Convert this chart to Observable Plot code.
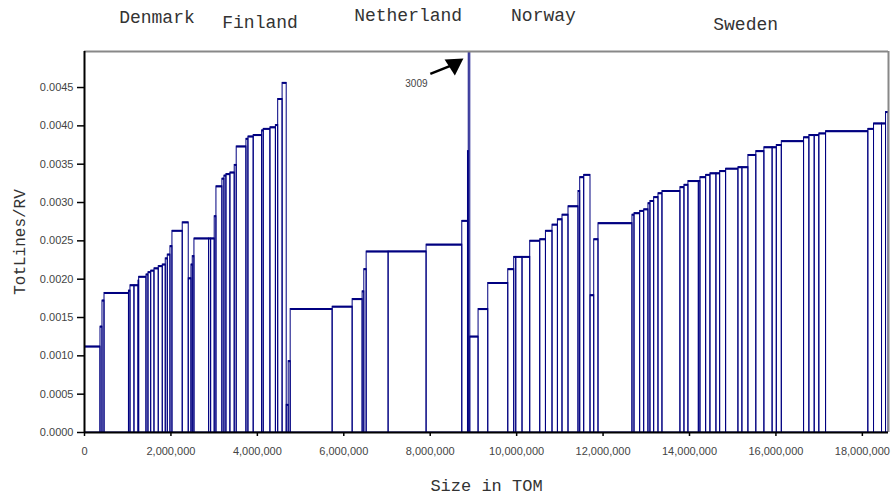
<!DOCTYPE html>
<html><head><meta charset="utf-8">
<script src="https://cdn.jsdelivr.net/npm/d3@7"></script>
<script src="https://cdn.jsdelivr.net/npm/@observablehq/plot@0.6"></script>
<style>body{margin:0;background:#fff}#chart svg{display:block}</style>
</head><body><div id="chart"></div>
<script>
// bar widths (size in TOM, thousands), left to right
const sizes = [
 370, 46, 47, 566, 35, 92, 93, 16, 169, 46,
 63, 76, 99, 93, 69, 47, 62, 46, 238, 139,
 63, 30, 39, 340, 46, 83, 40, 138, 47, 46,
 92, 100, 46, 225, 46, 122, 195, 37, 155, 127,
 53, 102, 95, 46, 46, 971, 463, 231, 39, 54,
 508, 879, 826, 132, 18, 35, 192, 224, 463, 138,
 47, 145, 178, 232, 132, 152, 125, 106, 139, 231,
 40, 92, 146, 86, 99, 786, 47, 131, 93, 99,
 46, 86, 100, 92, 416, 93, 92, 241, 37, 132,
 99, 139, 86, 138, 285, 92, 139, 183, 187, 190,
 97, 116, 515, 123, 123, 107, 156, 978, 132, 185,
 93, 57
];
// TotLines/RV per bar
const values = [
 .00112, .00138, .00172, .00182, .00185, .00192, .00192, .00198, .00203, .00206,
 .00209, .00211, .00214, .00217, .00219, .00227, .00232, .00243, .00263, .00274,
 .00201, .00219, .00230, .00253, .00253, .00253, .00282, .00321, .00331, .00335,
 .00337, .00339, .00349, .00373, .00383, .00386, .00388, .00394, .00396, .00398,
 .00401, .00435, .00456, .00036, .00093, .00161, .00164, .00174, .00184, .00213,
 .00236, .00236, .00245, .00276, .00367, .00620, .00125, .00161, .00195, .00213,
 .00229, .00229, .00229, .00250, .00252, .00263, .00271, .00278, .00284, .00295,
 .00315, .00333, .00336, .00179, .00252, .00273, .00284, .00286, .00289, .00291,
 .00299, .00302, .00307, .00312, .00315, .00320, .00323, .00328, .00328, .00333,
 .00336, .00338, .00338, .00341, .00344, .00346, .00346, .00362, .00367, .00372,
 .00372, .00375, .00380, .00385, .00388, .00388, .00390, .00393, .00396, .00403,
 .00403, .00418
];
const countries = ["Denmark", "Finland", "Netherland", "Norway", "Sweden"];
const countryX = [1677000, 4063000, 7490000, 10620000, 15300000];
const countryDy = [-34, -29, -36, -36, -27];
const xTicks = [0, 2e6, 4e6, 6e6, 8e6, 10e6, 12e6, 14e6, 16e6, 18e6];
const yTicks = [0, .0005, .001, .0015, .002, .0025, .003, .0035, .004, .0045];
const yTop = 0.00497;
const outlierLabel = ["3009"];
const outlierLabelX = [7680000], outlierLabelY = [0.004546];
const arrowX = [8002000, 8510000], arrowY = [0.004679, 0.004793];
const headX = [8557000], headY = [0.0048];

let cum = 0;
const bars = sizes.map((s, i) => {
  const b = {x1: cum * 1000, x2: (cum + s) * 1000, y0: 0, v: values[i]};
  cum += s;
  return b;
});
const total = cum * 1000;
const navy = "#000080";
const mono = "'Liberation Mono', 'Courier New', monospace";

const chart = Plot.plot({
  width: 894, height: 497,
  marginLeft: 84, marginRight: 6, marginTop: 51, marginBottom: 65,
  style: {background: "#fff", fontFamily: "'Liberation Sans', Arial, sans-serif", fontSize: "11px"},
  x: {domain: [0, total]},
  y: {domain: [0, yTop]},
  marks: [
    Plot.rect(bars, {x1: "x1", x2: "x2", y1: "y0", y2: "v", fill: "none", stroke: navy, strokeWidth: 1, clip: true}),
    Plot.ruleY(bars, {y: "v", x1: "x1", x2: "x2", stroke: navy, strokeWidth: 2, clip: true}),
    Plot.ruleY([yTop], {stroke: "#888", strokeWidth: 2}),
    Plot.ruleX([total], {stroke: "#888", strokeWidth: 2}),
    Plot.ruleX([0], {stroke: "#000", strokeWidth: 2}),
    Plot.ruleY([0], {stroke: "#000", strokeWidth: 2}),
    Plot.axisX({ticks: xTicks, tickFormat: d3.format(","), tickSize: 4, tickPadding: 11, strokeWidth: 1.5, stroke: "#000", fill: "#444", label: null, style: {letterSpacing: "0.4px"}}),
    Plot.axisY({ticks: yTicks, tickFormat: d3.format(".4f"), tickSize: 7, tickPadding: 4, strokeWidth: 1.5, stroke: "#000", fill: "#444", label: null}),
    Plot.text(["TotLines/RV"], {frameAnchor: "left", dx: -65, rotate: -90, textAnchor: "middle", lineAnchor: "middle", text: d => d, fontFamily: mono, fontSize: 16, fill: "#333"}),
    Plot.text(["Size in TOM"], {frameAnchor: "bottom", dy: 53, lineAnchor: "middle", text: d => d, fontFamily: mono, fontSize: 17, fill: "#333"}),
    ...countries.map((c, i) => Plot.text([c], {x: [countryX[i]], frameAnchor: "top", dy: countryDy[i], lineAnchor: "middle", text: d => d, fontFamily: mono, fontSize: 18, fill: "#333"})),
    Plot.link([0], {x1: [arrowX[0]], y1: [arrowY[0]], x2: [arrowX[1]], y2: [arrowY[1]], stroke: "#000", strokeWidth: 2.5}),
    Plot.dot([0], {x: headX, y: headY, symbol: "triangle", rotate: 57, r: 7, fill: "#000", stroke: "none"}),
    Plot.text(outlierLabel, {x: outlierLabelX, y: outlierLabelY, text: d => d, fontSize: 10, fill: "#444"})
  ]
});
document.getElementById("chart").append(chart);
</script>
</body></html>
